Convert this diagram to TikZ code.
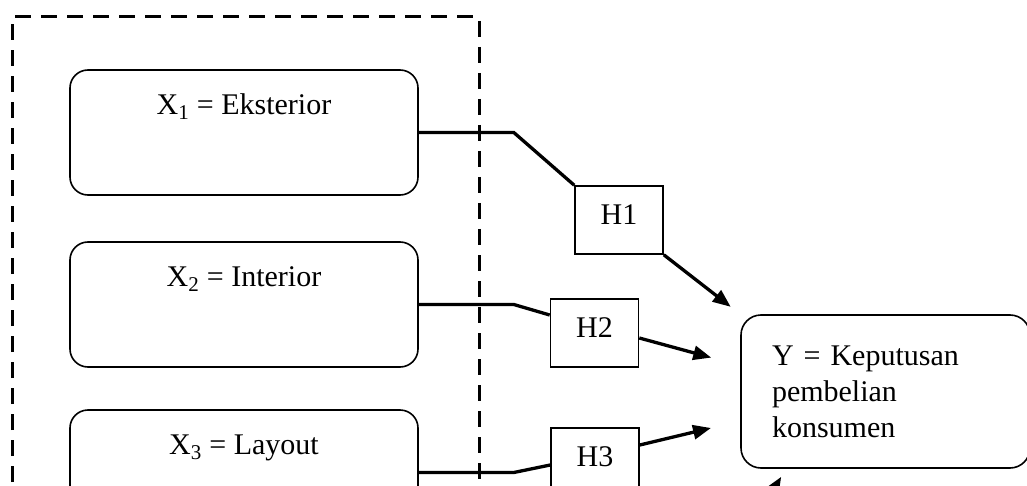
\documentclass[tikz,border=0pt]{standalone}
\usepackage{fontspec}
\setmainfont{Liberation Serif}
\usetikzlibrary{arrows.meta, calc, positioning}

\begin{document}
\begin{tikzpicture}[x=1pt, y=-1pt, font=\fontsize{30}{36}\selectfont,
  varbox/.style={draw, line width=1.6pt, rounded corners=18pt, minimum width=348pt, minimum height=125pt},
  hbox/.style={draw, line width=1.6pt, inner sep=0pt, minimum width=88pt, minimum height=68pt, text depth=10pt},
  link/.style={line width=3.3pt},
  arr/.style={line width=3.3pt, -{Triangle[length=18pt,width=14pt]}}]
\useasboundingbox (0,0) rectangle (1027,486);
\clip (0,0) rectangle (1027,486);

% Frame round the variables
\draw[line width=3pt, dash pattern=on 16pt off 10pt] (12,560) -- (12,17) -- (479,17) -- (479,560);

% Independent variables
\node[varbox, label={[anchor=base, yshift=-45pt]north:X\textsubscript{1} = Eksterior}] (x1) at (244,132.5) {};
\node[varbox, label={[anchor=base, yshift=-45pt]north:X\textsubscript{2} = Interior}] (x2) at (244,304.5) {};
\node[varbox, label={[anchor=base, yshift=-45pt]north:X\textsubscript{3} = Layout}] (x3) at (244,472.5) {};

% Hypotheses
\node[hbox] (h1) at (619,220) {H1};
\node[hbox] (h2) at (594.5,333) {H2};
\node[hbox] (h3) at (595,462) {H3};

% Dependent variable
\node[draw, line width=1.6pt, rounded corners=20pt, minimum width=289pt, minimum height=153pt,
  text width=227pt, align=left] (y) at (885.5,391.5) {Y = Keputusan\\pembelian\\konsumen};
\coordinate (ybot) at (755,520);

% Paths
\draw[link] (x1.east) -- ($(x1.east)+(95,0)$) -- (h1.north west);
\draw[link] (x2.east) -- ($(x2.east)+(95,0)$) -- ($(h2.west)+(0,-18)$);
\draw[link] (x3.east) -- ($(x3.east)+(95,0)$) -- ($(h3.west)+(0,3)$);
\draw[arr, shorten >=12pt] (h1.south east) -- (y.north west);
\draw[arr, shorten >=30pt] ($(h2.east)+(0,5)$) -- ($(y.west)+(0,-26)$);
\draw[arr, shorten >=30pt] ($(h3.east)+(0,-17)$) -- ($(y.west)+(0,29.5)$);
\draw[arr] (ybot) -- ($(y.south west)+(41,8)$);
\end{tikzpicture}
\end{document}
